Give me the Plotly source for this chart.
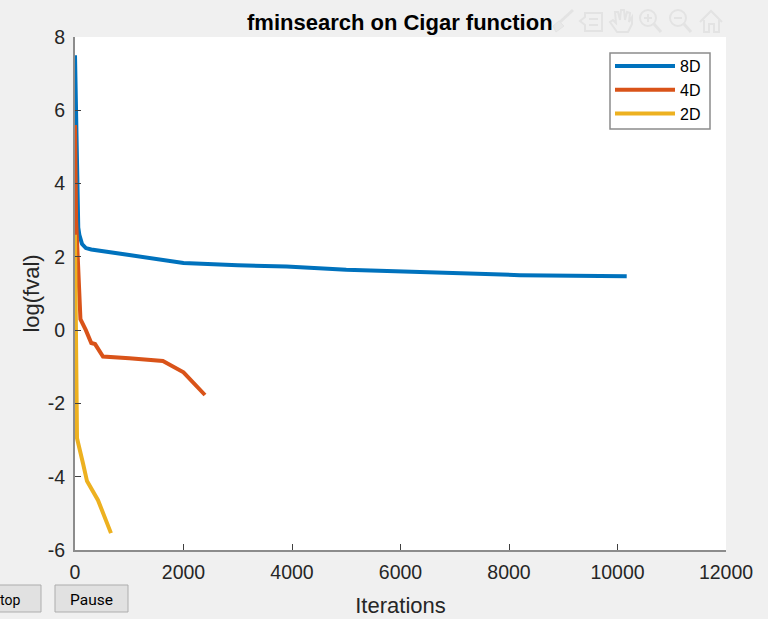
import plotly.graph_objects as go

# Data
x_8d = [0, 15, 30, 45, 60, 80, 130, 200, 300, 1000, 2000, 3000, 3900, 5000, 6000, 7000, 8200, 10170]
y_8d = [7.5, 6.0, 5.0, 3.0, 2.8, 2.6, 2.35, 2.24, 2.2, 2.05, 1.83, 1.77, 1.74, 1.65, 1.6, 1.56, 1.5, 1.47]
x_4d = [0, 20, 50, 70, 90, 100, 200, 276, 300, 370, 516, 1000, 1620, 2000, 2150, 2396]
y_4d = [5.6, 3.0, 2.0, 1.0, 0.8, 0.3, 0.0, -0.25, -0.35, -0.38, -0.72, -0.77, -0.84, -1.15, -1.38, -1.77]
x_2d = [0, 10, 20, 30, 37, 147, 221, 424, 516, 663]
y_2d = [2.6, 1.0, -1.0, -2.8, -2.95, -3.63, -4.12, -4.64, -5.0, -5.54]
series = [("8D", x_8d, y_8d, "#0072BD"), ("4D", x_4d, y_4d, "#D95319"), ("2D", x_2d, y_2d, "#EDB120")]
x_ticks = [0, 2000, 4000, 6000, 8000, 10000, 12000]
y_ticks = [-6, -4, -2, 0, 2, 4, 6, 8]

L, R, T, B = 75, 726, 37, 550
W, H = 768, 619
def px(x): return (x - L) / (R - L)
def py(y): return (B - y) / (B - T)
def path(cmds):
    parts = []
    for c in cmds:
        parts.append(c if isinstance(c, str) else f"{px(c[0]):.5f},{py(c[1]):.5f}")
    return " ".join(parts)

def rect(x0, y0, x1, y1, fill, line, width=1):
    return dict(type="rect", xref="paper", yref="paper", x0=px(x0), x1=px(x1), y0=py(y0), y1=py(y1),
                fillcolor=fill, line=dict(color=line, width=width), layer="above")
def poly(cmds, color="#e3e3e3", width=2, fill="rgba(0,0,0,0)"):
    return dict(type="path", xref="paper", yref="paper", path=path(cmds),
                line=dict(color=color, width=width), fillcolor=fill, layer="below")
def circ(cx, cy, r, color="#e3e3e3", width=2):
    return dict(type="circle", xref="paper", yref="paper", x0=px(cx-r), x1=px(cx+r), y0=py(cy+r), y1=py(cy-r),
                line=dict(color=color, width=width), fillcolor="rgba(0,0,0,0)", layer="below")

shapes = [
    rect(-5, 585, 41, 612, "#e1e1e1", "#adadad"),
    rect(55, 585, 128, 612, "#e1e1e1", "#adadad"),
    rect(610, 53, 710, 129, "#ffffff", "#8c8c8c", 1.5),
    # brush
    poly(["M", (573, 10), "L", (560, 22)], width=3),
    poly(["M", (553, 26), "L", (559, 21), "L", (564, 26), "L", (556, 32), "Z"], fill="#e8e8e8", width=1),
    # legend-like icon
    poly(["M", (585, 13), "L", (602, 13), "L", (602, 31), "L", (585, 31), "L", (585, 25), "L", (580, 21), "L", (585, 17), "Z"]),
    poly(["M", (589, 19), "L", (598, 19)]),
    poly(["M", (589, 25), "L", (598, 25)]),
    # hand
    poly(["M", (617, 32), "L", (610, 22), "L", (613, 20), "L", (616, 23), "L", (615, 12), "L", (618, 12), "L", (620, 20),
          "L", (621, 10), "L", (624, 10), "L", (625, 20), "L", (627, 12), "L", (630, 13), "L", (629, 22), "L", (632, 17),
          "L", (632, 24), "L", (628, 32), "Z"]),
    # zoom in
    circ(648, 18, 8), poly(["M", (654, 24), "L", (661, 32)], width=3),
    poly(["M", (644, 18), "L", (652, 18)]), poly(["M", (648, 14), "L", (648, 22)]),
    # zoom out
    circ(678, 18, 8), poly(["M", (684, 24), "L", (691, 32)], width=3),
    poly(["M", (674, 18), "L", (682, 18)]),
    # home
    poly(["M", (700, 22), "L", (711, 11), "L", (722, 22)]),
    poly(["M", (704, 20), "L", (704, 32), "L", (709, 32), "L", (709, 24), "L", (714, 24), "L", (714, 32), "L", (719, 32), "L", (719, 20)]),
]

annotations = [
    dict(text="top", xref="paper", yref="paper", x=px(22), y=py(600), xanchor="right", yanchor="middle",
         showarrow=False, font=dict(family="Roboto, Liberation Sans", size=14, color="#000000")),
    dict(text="Pause", xref="paper", yref="paper", x=px(91.5), y=py(600), xanchor="center", yanchor="middle",
         showarrow=False, font=dict(family="Roboto, Liberation Sans", size=15.5, color="#000000")),
    dict(text="<b>fminsearch on Cigar function</b>", xref="paper", yref="paper", x=px(400), y=py(22),
         xanchor="center", yanchor="middle", showarrow=False,
         font=dict(family="Liberation Sans", size=22, color="#000000")),
]

fig = go.Figure()
for name, xs, ys, color in series:
    fig.add_trace(go.Scatter(x=xs, y=ys, name=name, mode="lines", cliponaxis=False, line=dict(color=color, width=4)))

axis_common = dict(
    showgrid=False, zeroline=False, showline=True, linecolor="#8c8c8c", linewidth=2,
    ticks="inside", ticklen=6, tickwidth=1, tickcolor="#404040",
    tickfont=dict(family="Liberation Sans", size=19.5, color="#262626"),
    ticklabelstandoff=4,
)
fig.update_xaxes(range=[0, 12000], tickvals=x_ticks, ticktext=[str(v) for v in x_ticks], automargin=False,
                 title=dict(text="Iterations", font=dict(family="Liberation Sans", size=22, color="#262626")),
                 **axis_common)
fig.update_yaxes(range=[-6, 8], tickvals=y_ticks, ticktext=[str(v) for v in y_ticks],
                 title=dict(text="log(fval)", font=dict(family="Liberation Sans", size=22, color="#262626"), standoff=2),
                 **axis_common)
fig.update_layout(
    width=W, height=H, autosize=False,
    margin=dict(l=L, r=W - R, t=T, b=H - B, pad=0),
    paper_bgcolor="#f0f0f0", plot_bgcolor="#ffffff",
    shapes=shapes, annotations=annotations,
    legend=dict(x=px(610), y=py(49), xanchor="left", yanchor="top", bgcolor="rgba(0,0,0,0)", borderwidth=0,
                font=dict(family="Liberation Sans", size=16, color="#000000"),
                itemwidth=60, tracegroupgap=0, entrywidth=30, entrywidthmode="pixels"),
    showlegend=True,
)
fig.write_html("out.html", config={"displayModeBar": False},
               post_script="document.body.style.margin='0';document.body.style.background='#f0f0f0';")
